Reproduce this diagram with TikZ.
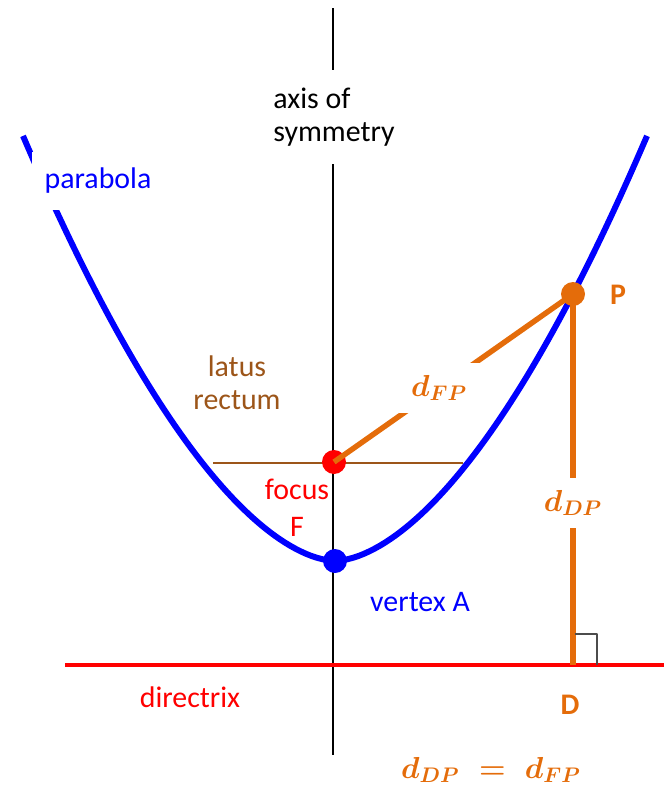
\documentclass[tikz,border=0pt]{standalone}
\usepackage{amsmath,amssymb}
\usepackage{fontspec}
\setmainfont{Carlito}
\usetikzlibrary{arrows.meta}
\definecolor{orng}{HTML}{E46C0A}
\definecolor{brwn}{HTML}{9C5519}
\tikzset{
  every picture/.style={line join=round},
  lbl/.style={font=\fontsize{17}{19}\selectfont, align=center},
  gap/.style={fill=white, inner sep=0.25cm},
  dot/.style={circle, fill=#1, inner sep=0pt, minimum size=0.48cm},
  dist/.style={font=\fontsize{18}{22}\selectfont, text=orng},
}

\begin{document}
\begin{tikzpicture}[x=0.02cm,y=-0.02cm]
\useasboundingbox (0,0) rectangle (664,791);
% axis of symmetry
\coordinate (axtop) at (333,8);
\coordinate (axbot) at (333,755);
\draw[line width=1.1pt] (axtop) -- (axbot);
\node[lbl, gap, inner ysep=0.35cm, align=left] (axis) at (334,117) {axis of\\symmetry};
% latus rectum
\coordinate (L1) at (213,463);
\coordinate (L2) at (463,463);
\draw[brwn, line width=1.7pt] (L1) -- (L2);
\node[lbl, text=brwn] (latus) at (237,383) {latus\\rectum};
% parabola
\draw[blue, line width=3.4pt, domain=-312:312, samples=120, variable=\x]
  plot ({335+\x}, {561-60.4*pow(abs(\x)/100+0.0001,1.715)});
\node[lbl, gap, inner ysep=0.33cm, text=blue] (parab) at (98,181) {parabola};
% directrix
\coordinate (dirL) at (65,665);
\coordinate (dirR) at (664,665);
\coordinate (D) at (573,665);
\draw[red, line width=2.8pt] (dirL) -- (dirR);
\node[lbl, text=red] (dirlbl) at (190,697) {directrix};
% focus, vertex, point
\node[dot=red] (F) at (334,462) {};
\node[dot=blue] (A) at (335,561) {};
\coordinate (P) at (573,294);
\node[lbl, text=red] (flbl) at (297,508) {focus\\[2pt]F};
\node[lbl, text=blue] (vlbl) at (420,602) {vertex A};
% distances
\draw[orng, line width=3.1pt] (F.center) -- node[dist, gap, pos=0.44] (dFP) {$\boldsymbol{d_{FP}}$} (P);
\draw[orng, line width=3.1pt] (P) -- node[dist, gap, pos=0.563] (dDP) {$\boldsymbol{d_{DP}}$} (D);
\node[dot=orng] (Pdot) at (P) {};
\draw[black!70, line width=0.6pt] (D) ++(2,-31) -- ++(22,0) -- ++(0,31);
\node[lbl, text=orng] (Plbl) at (618,295) {\bfseries P};
\node[lbl, text=orng] (Dlbl) at (570,705) {\bfseries D};
\node[dist] (eq) at (491,770) {$\boldsymbol{d_{DP}\;=\;d_{FP}}$};
\end{tikzpicture}
\end{document}
